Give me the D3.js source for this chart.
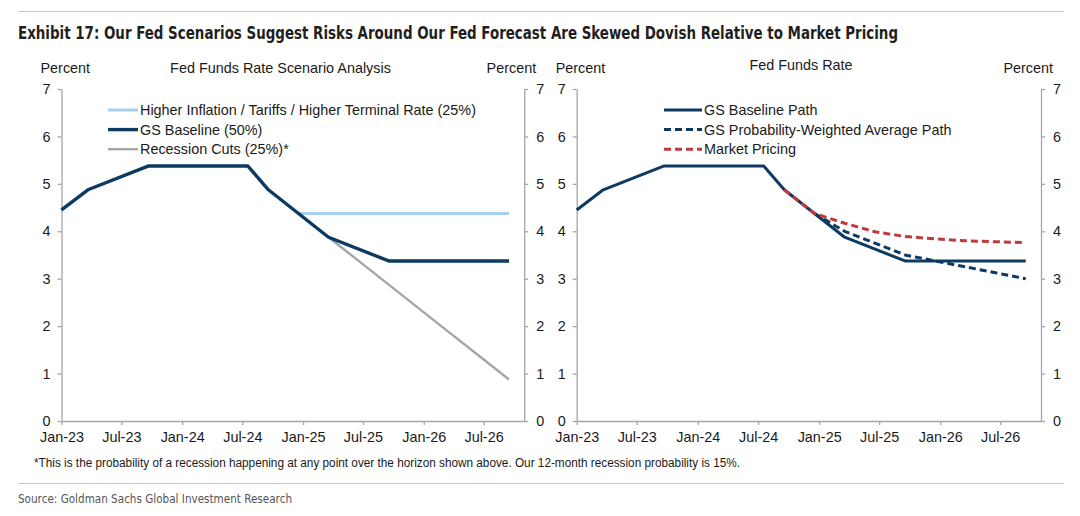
<!DOCTYPE html>
<html>
<head>
<meta charset="utf-8">
<script src="https://cdn.jsdelivr.net/npm/d3@7"></script>
<style>
  body { margin: 0; background: #fff; }
  text { font-family: "Liberation Sans", Arial, sans-serif; fill: #1a1a1a; }
</style>
</head>
<body>
<div id="chart"></div>
<script>
width = 1080
height = 516

// x tick labels (every 6 months)
const tickDates = ["2023-01-01", "2023-07-01", "2024-01-01", "2024-07-01", "2025-01-01", "2025-07-01", "2026-01-01", "2026-07-01"]
const yTicks = [0, 1, 2, 3, 4, 5, 6, 7]

// GS baseline path (both panels)
const baseDates = ["2023-01-01", "2023-03-22", "2023-09-20", "2024-07-18", "2024-09-18", "2024-12-18", "2025-03-19", "2025-09-17", "2026-09-16"]
const gsBaseline = [4.45, 4.875, 5.375, 5.375, 4.875, 4.375, 3.875, 3.375, 3.375]

// left panel scenarios
const hawkDates = ["2024-12-18", "2026-09-16"]
const higherInflation = [4.375, 4.375]
const recDates = ["2025-03-19", "2025-06-18", "2025-09-17", "2025-12-17", "2026-03-18", "2026-06-17", "2026-09-16"]
const recessionCuts = [3.875, 3.375, 2.875, 2.375, 1.875, 1.375, 0.875]

// right panel
const probDates = ["2024-12-18", "2025-03-19", "2025-06-18", "2025-09-17", "2025-12-17", "2026-03-18", "2026-06-17", "2026-09-16"]
const probWeighted = [4.375, 4.0, 3.75, 3.5, 3.375, 3.25, 3.125, 3.0]
const mktDates = ["2024-09-18", "2024-12-18", "2025-03-19", "2025-06-18", "2025-09-17", "2025-12-17", "2026-03-18", "2026-06-17", "2026-09-16"]
const marketPricing = [4.875, 4.375, 4.17, 3.99, 3.89, 3.84, 3.80, 3.78, 3.76]

const NAVY = "#0c3a62", LIGHT = "#a8d0ec", GREY = "#a6a6a6", RED = "#c0393b", AXIS = "#a6a6a6"

const parse = d3.timeParse("%Y-%m-%d")
const zip = (ds, vs) => ds.map((d, i) => ({ date: parse(d), value: vs[i] }))

let svg = d3.select("#chart").append("svg")
  .attr("width", width)
  .attr("height", height)

// header
svg.append("line").attr("x1", 18).attr("x2", 1064).attr("y1", 11.5).attr("y2", 11.5)
  .attr("stroke", "#c8c8c8").attr("stroke-width", 1.2)
svg.append("text")
  .attr("x", 18).attr("y", 39)
  .attr("textLength", 880).attr("lengthAdjust", "spacingAndGlyphs")
  .style("font-family", "'Liberation Sans Narrow', 'DejaVu Sans Condensed', sans-serif")
  .style("font-weight", "bold").style("font-size", "17.5px").style("fill", "#231f20")
  .text("Exhibit 17: Our Fed Scenarios Suggest Risks Around Our Fed Forecast Are Skewed Dovish Relative to Market Pricing")

const y = d3.scaleLinear().domain([0, 7]).range([421, 89])

function drawPanel(p) {
  const x = d3.scaleTime()
    .domain([parse("2023-01-01"), parse("2026-11-01")])
    .range([p.x0, p.x1])

  const g = svg.append("g")

  // axes
  const xAxis = d3.axisBottom(x)
    .tickValues(tickDates.map(parse))
    .tickFormat(d3.timeFormat("%b-%y"))
    .tickSize(4).tickSizeOuter(0)
  const gx = g.append("g").attr("transform", `translate(0,${y(0)})`).call(xAxis)
  gx.selectAll("text").attr("dy", null).attr("y", 21)

  g.append("g").attr("transform", `translate(${p.x0},0)`)
    .call(d3.axisLeft(y).tickValues(yTicks).tickFormat(d3.format("d")).tickSize(4).tickSizeOuter(0).tickPadding(7))
  g.append("g").attr("transform", `translate(${p.x1},0)`)
    .call(d3.axisRight(y).tickValues(yTicks).tickFormat(d3.format("d")).tickSize(4).tickSizeOuter(0).tickPadding(8))

  g.selectAll(".domain, .tick line").attr("stroke", AXIS).attr("stroke-width", 1.3)
  g.selectAll(".tick text").style("font-size", "14.4px").style("fill", "#1a1a1a")
    .style("font-family", "'Liberation Sans', Arial, sans-serif")

  // titles
  g.append("text").attr("x", p.x0 - 21).attr("y", 73).style("font-size", "14.4px").text("Percent")
  g.append("text").attr("x", p.x1 + 12).attr("y", 73).attr("text-anchor", "end")
    .style("font-size", "14.4px").text("Percent")
  g.append("text").attr("x", p.titleX).attr("y", p.titleY).attr("text-anchor", "middle")
    .style("font-size", "14.4px").text(p.title)

  const line = d3.line().x(d => x(d.date)).y(d => y(d.value))

  p.series.forEach(s => {
    g.append("path")
      .datum(s.data)
      .attr("fill", "none")
      .attr("stroke", s.color)
      .attr("stroke-width", s.width)
      .attr("stroke-dasharray", s.dash || null)
      .attr("stroke-linejoin", "round")
      .attr("d", line)
  })

  // legend
  p.legend.forEach((s, i) => {
    const ly = 110 + i * 19.6
    g.append("line")
      .attr("x1", p.legX).attr("x2", p.legX + p.legLen)
      .attr("y1", ly).attr("y2", ly)
      .attr("stroke", s.color).attr("stroke-width", s.width)
      .attr("stroke-dasharray", s.dash || null)
    g.append("text").attr("x", p.legX + p.legLen + 2).attr("y", ly + 5)
      .style("font-size", "14.4px").text(s.name)
  })
}

const baseline = { name: "GS Baseline (50%)", color: NAVY, width: 3.4, data: zip(baseDates, gsBaseline) }
const hawk = { name: "Higher Inflation / Tariffs / Higher Terminal Rate (25%)", color: LIGHT, width: 3, data: zip(hawkDates, higherInflation) }
const rec = { name: "Recession Cuts (25%)*", color: GREY, width: 2.4, data: zip(recDates, recessionCuts) }

drawPanel({
  x0: 61.5, x1: 524.2,
  title: "Fed Funds Rate Scenario Analysis", titleX: 280.5, titleY: 73,
  series: [hawk, rec, baseline],
  legend: [hawk, baseline, rec],
  legX: 108, legLen: 30
})

const base2 = { name: "GS Baseline Path", color: NAVY, width: 3, data: zip(baseDates, gsBaseline) }
const prob = { name: "GS Probability-Weighted Average Path", color: NAVY, width: 3, dash: "7,4", data: zip(probDates, probWeighted) }
const mkt = { name: "Market Pricing", color: RED, width: 3, dash: "7,4", data: zip(mktDates, marketPricing) }

drawPanel({
  x0: 576.7, x1: 1041,
  title: "Fed Funds Rate", titleX: 801, titleY: 70,
  series: [base2, prob, mkt],
  legend: [base2, prob, mkt],
  legX: 664, legLen: 38
})

// footer
svg.append("text").attr("x", 34).attr("y", 467)
  .attr("textLength", 706).attr("lengthAdjust", "spacingAndGlyphs")
  .style("font-size", "12.5px")
  .text("*This is the probability of a recession happening at any point over the horizon shown above.  Our 12-month recession probability is 15%.")
svg.append("line").attr("x1", 18).attr("x2", 1064).attr("y1", 483.5).attr("y2", 483.5)
  .attr("stroke", "#c8c8c8").attr("stroke-width", 1.2)
svg.append("text").attr("x", 18).attr("y", 503)
  .attr("textLength", 274).attr("lengthAdjust", "spacingAndGlyphs")
  .style("font-family", "'Liberation Sans Narrow', 'DejaVu Sans Condensed', sans-serif")
  .style("font-size", "13px").style("fill", "#555")
  .text("Source: Goldman Sachs Global Investment Research")
</script>
</body>
</html>
